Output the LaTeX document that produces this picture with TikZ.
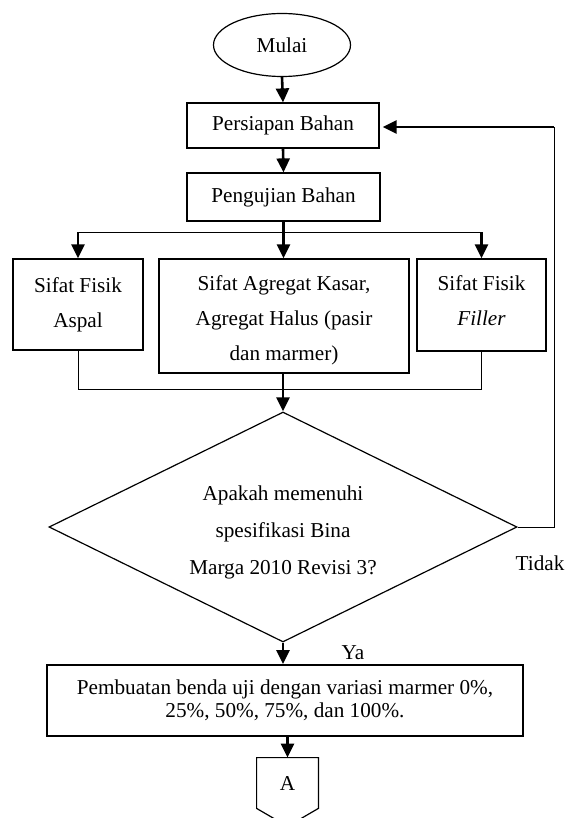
\documentclass[tikz,border=0pt]{standalone}
\usepackage{fontspec}
\setmainfont{Liberation Serif}
\usetikzlibrary{shapes.geometric,arrows.meta,calc}
\begin{document}
\begin{tikzpicture}[x=0.5pt,y=-0.5pt,
  every node/.style={font=\fontsize{10.6}{17.5}\selectfont, inner sep=0pt, align=center},
  boxnode/.style={draw, line width=0.6pt, rectangle},
  thinline/.style={line width=0.5pt},
  thickline/.style={line width=1.3pt},
  arr/.style={line width=1.3pt, -{Triangle[width=6.5pt,length=7pt]}}]
\useasboundingbox (0,0) rectangle (571,818);
\clip (0,0) rectangle (571,818);
\node[draw, ellipse, line width=0.6pt, minimum width=68.5pt, minimum height=31.5pt] (mulai) at (282,45) {Mulai};
\node[boxnode, minimum width=96pt, minimum height=22.5pt] (persiapan) at (283,125.5) {Persiapan Bahan};
\node[boxnode, minimum width=96.5pt, minimum height=24pt] (pengujian) at (283.5,197) {Pengujian Bahan};
\node[boxnode, minimum width=65pt, minimum height=45.5pt] (aspal) at (78,304.5) {Sifat Fisik\\Aspal};
\node[boxnode, minimum width=125pt, minimum height=57pt] (agregat) at (284,316) {};
\node (agregatT) at (284,320) {Sifat Agregat Kasar,\\Agregat Halus (pasir\\dan marmer)};
\node[boxnode, minimum width=64.5pt, minimum height=46pt] (filler) at (481.5,305) {};
\node (fillerT) at (481.5,301) {Sifat Fisik\\\textit{Filler}};
\node[draw, diamond, line width=0.6pt, aspect=2, minimum width=234pt, minimum height=115pt] (cek) at (283,527) {};
\node[font=\fontsize{10.6}{18.5}\selectfont] (cekT) at (283,532) {Apakah memenuhi\\spesifikasi Bina\\Marga 2010 Revisi 3?};
\node[draw, rectangle, line width=1pt, minimum width=238pt, minimum height=35.5pt, font=\fontsize{10.6}{11.5}\selectfont] (buat) at (285,700.5) {Pembuatan benda uji dengan variasi marmer 0\%,\\25\%, 50\%, 75\%, dan 100\%.};
\node[minimum width=30.5pt, minimum height=25pt] (A) at (287.5,783) {A};
\draw[line width=0.6pt] (A.north west) -- (A.north east) -- (A.south east) -- ($(A.south)+(0,18)$) -- (A.south west) -- cycle;
\node (tidak) at (540,563) {Tidak};
\node (ya) at (353,653) {Ya};
% coordinates
\coordinate (bc) at (283.5,232);
\coordinate (bl) at (78,232);
\coordinate (br) at (481.5,232);
\coordinate (ml) at (78,389);
\coordinate (mr) at (481.5,389);
\coordinate (fr) at (554,527);
\coordinate (ft) at (554,127);
% connectors
\draw[arr] (mulai.south) -- (persiapan.north);
\draw[arr] (persiapan.south) -- (pengujian.north);
\draw[thickline] (pengujian.south) -- (bc);
\draw[thinline] (bl) -- (br);
\draw[arr] (bl) -- (aspal.north);
\draw[arr] (bc) -- (bc |- agregat.north);
\draw[arr] (br) -- (filler.north);
\draw[thinline] (aspal.south) -- (ml) -- (mr) -- (filler.south);
\draw[arr] (agregat.south -| cek.north) -- (cek.north);
\draw[arr] (cek.south) -- (cek.south |- buat.north);
\draw[arr] (buat.south -| A.north) -- (A.north);
\draw[thinline] (cek.east) -- (fr) -- (ft);
\draw[arr, shorten >=1.5pt] (ft) -- (ft -| persiapan.east);
\end{tikzpicture}
\end{document}
